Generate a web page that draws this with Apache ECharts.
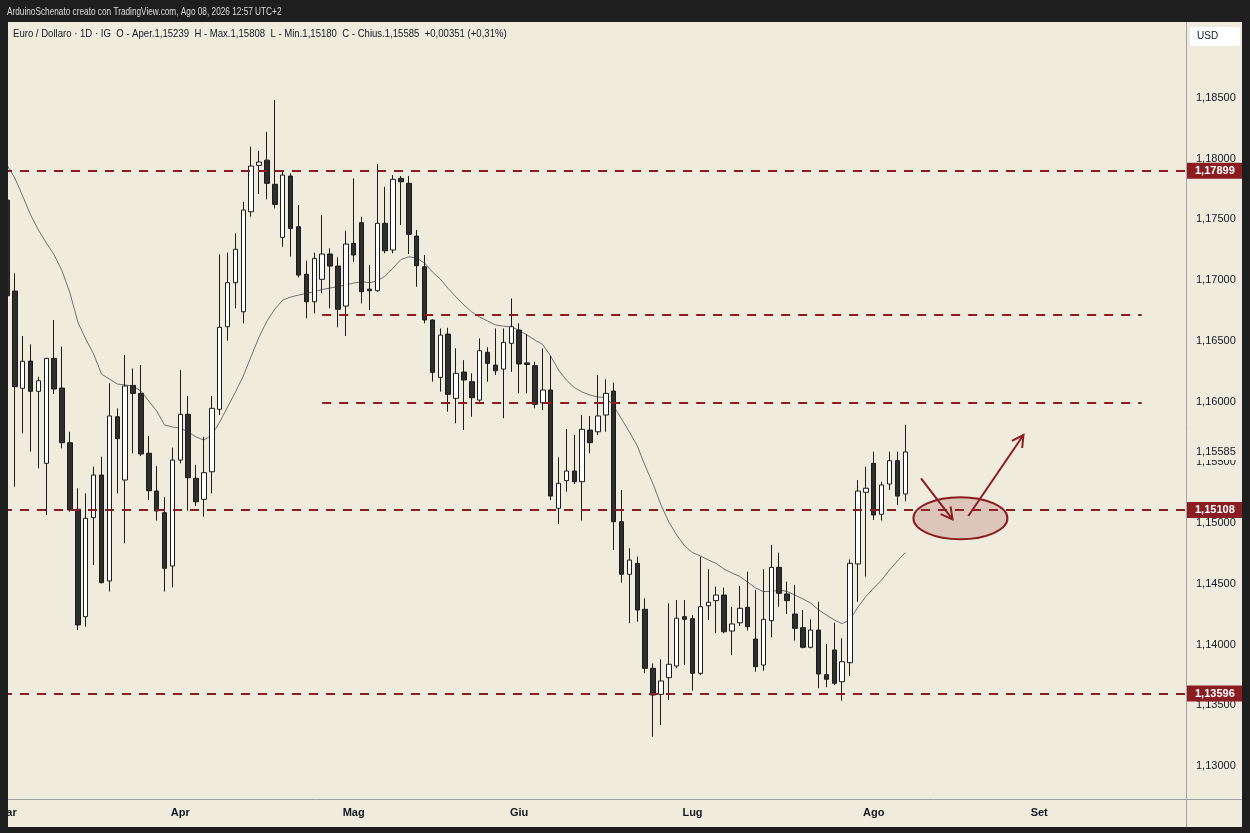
<!DOCTYPE html>
<html><head><meta charset="utf-8">
<script src="https://cdn.jsdelivr.net/npm/echarts@6/dist/echarts.min.js"></script>
<style>html,body{margin:0;padding:0;background:#1e1e1e;}#c{width:1250px;height:833px;}</style>
</head><body><div id="c"></div>
<script>
// ---- data ----
const monthNames = ['Gen','Feb','Mar','Apr','Mag','Giu','Lug','Ago','Set','Ott','Nov','Dic'];
const opens = [
1.17658,1.16909,1.16109,1.16333,1.16084,1.15491,1.16355,1.16111,1.15661,1.15113,
1.14229,1.15044,1.15395,1.14523,1.15875,1.15354,1.16133,1.16067,1.15574,1.15263,
1.15085,1.14646,1.15518,1.15895,1.15368,1.15195,1.15422,1.15936,1.16616,1.16978,
1.16739,1.17562,1.17944,1.17987,1.17788,1.17351,1.17856,1.17439,1.17047,1.16821,
1.17006,1.17214,1.17115,1.16786,1.17302,1.17472,1.16925,1.16912,1.17467,1.17247,
1.17837,1.17796,1.17362,1.17109,1.16671,1.16199,1.16555,1.16026,1.16243,1.16163,
1.16012,1.16405,1.16300,1.16267,1.16479,1.16588,1.16318,1.16295,1.15990,1.16095,
1.15121,1.15348,1.15428,1.15340,1.15765,1.15751,1.15889,1.16086,1.15011,1.14578,
1.14668,1.14290,1.13804,1.13590,1.13727,1.13823,1.14229,1.14212,1.13763,1.14319,
1.14361,1.14407,1.14111,1.14179,1.14306,1.14045,1.13831,1.14196,1.14635,1.14416,
1.14251,1.14138,1.13977,1.14119,1.13752,1.13955,1.13694,1.13850,1.14663,1.15253,
1.15491,1.15072,1.15321,1.15513,1.15239];
const closes = [
1.16871,1.16122,1.16331,1.16084,1.16171,1.16355,1.16103,1.15661,1.15107,1.14161,
1.15039,1.15395,1.14509,1.15881,1.15694,1.16128,1.16067,1.15568,1.15266,1.15099,
1.14627,1.15518,1.15895,1.15373,1.15175,1.15414,1.15944,1.16611,1.16978,1.17253,
1.17576,1.17938,1.17971,1.17796,1.17623,1.17864,1.17425,1.17041,1.16821,1.17178,
1.17214,1.17115,1.16759,1.17296,1.17206,1.16904,1.16912,1.17467,1.17241,1.17829,
1.17809,1.17376,1.17118,1.16671,1.16240,1.16547,1.16059,1.16232,1.16177,1.16031,
1.16418,1.16314,1.16253,1.16487,1.16616,1.16309,1.16305,1.15977,1.16095,1.15222,
1.15327,1.15428,1.15340,1.15771,1.15661,1.15881,1.16067,1.15011,1.14578,1.14695,
1.14284,1.13804,1.13584,1.13700,1.13837,1.14216,1.14207,1.13763,1.14311,1.14347,
1.14407,1.14105,1.14169,1.14298,1.14147,1.13817,1.14207,1.14635,1.14421,1.14361,
1.14133,1.13977,1.14119,1.13757,1.13714,1.13681,1.13858,1.14668,1.15263,1.15286,
1.15066,1.15313,1.15513,1.15222,1.15585];
const lows = [
1.16800,1.15299,1.15738,1.15587,1.15450,1.15066,1.16062,1.15615,1.15093,1.14119,
1.14147,1.14654,1.14504,1.14435,1.15244,1.14833,1.15574,1.15551,1.15189,1.15019,
1.14435,1.14471,1.15491,1.15101,1.15140,1.15052,1.15244,1.15889,1.16500,1.16767,
1.16644,1.17521,1.17708,1.17664,1.17590,1.17274,1.17192,1.17022,1.16685,1.16726,
1.16890,1.16767,1.16611,1.16539,1.17150,1.16808,1.16753,1.16904,1.17220,1.17220,
1.17453,1.17214,1.16945,1.16644,1.16163,1.16081,1.15916,1.15821,1.15765,1.15875,
1.15998,1.16163,1.16218,1.15862,1.16245,1.16067,1.16067,1.15944,1.15930,1.15189,
1.14992,1.15258,1.15321,1.15019,1.15574,1.15724,1.15751,1.14778,1.14509,1.14175,
1.14188,1.13763,1.13241,1.13337,1.13543,1.13804,1.13831,1.13620,1.13749,1.14202,
1.14092,1.14092,1.13914,1.14152,1.14114,1.13776,1.13784,1.14059,1.14311,1.14251,
1.14031,1.13969,1.13969,1.13640,1.13648,1.13667,1.13538,1.13741,1.14352,1.14558,
1.15025,1.15019,1.15272,1.15148,1.15180];
const highs = [
1.17750,1.17055,1.16539,1.16471,1.16204,1.16360,1.16671,1.16451,1.15751,1.15286,
1.15244,1.15463,1.15546,1.16150,1.15944,1.16383,1.16273,1.16300,1.15716,1.15469,
1.15212,1.15620,1.16259,1.16045,1.15477,1.15710,1.16045,1.17211,1.17225,1.17384,
1.17644,1.18097,1.18064,1.18220,1.18481,1.17891,1.17878,1.17617,1.17159,1.17225,
1.17535,1.17261,1.17187,1.17406,1.17837,1.17521,1.17123,1.17955,1.17768,1.17864,
1.17856,1.17856,1.17411,1.17206,1.16677,1.16602,1.16607,1.16438,1.16341,1.16232,
1.16520,1.16446,1.16602,1.16602,1.16849,1.16644,1.16555,1.16328,1.16438,1.16374,
1.15541,1.15774,1.15724,1.15889,1.15881,1.16218,1.16183,1.16155,1.15272,1.14792,
1.14723,1.14380,1.13845,1.13878,1.14339,1.14366,1.14366,1.14243,1.14723,1.14619,
1.14476,1.14468,1.14311,1.14482,1.14599,1.14449,1.14619,1.14819,1.14756,1.14517,
1.14490,1.14284,1.14207,1.14352,1.14004,1.14179,1.14051,1.14701,1.15354,1.15463,
1.15587,1.15340,1.15587,1.15587,1.15808];
const maValues = [
1.17947,1.17840,1.17691,1.17535,1.17412,1.17305,1.17206,1.17074,1.16893,1.16654,
1.16514,1.16391,1.16226,1.16185,1.16144,1.16136,1.16128,1.16086,1.16004,1.15922,
1.15807,1.15790,1.15782,1.15749,1.15708,1.15683,1.15724,1.15831,1.15955,1.16078,
1.16210,1.16374,1.16531,1.16663,1.16761,1.16835,1.16860,1.16876,1.16889,1.16905,
1.16922,1.16934,1.16946,1.16959,1.16975,1.16986,1.16979,1.16992,1.17033,1.17099,
1.17169,1.17191,1.17181,1.17140,1.17066,1.17008,1.16930,1.16860,1.16794,1.16737,
1.16695,1.16663,1.16630,1.16621,1.16613,1.16588,1.16547,1.16506,1.16469,1.16374,
1.16259,1.16177,1.16115,1.16078,1.16053,1.16037,1.16033,1.15963,1.15856,1.15749,
1.15634,1.15469,1.15321,1.15148,1.15008,1.14901,1.14811,1.14757,1.14728,1.14696,
1.14667,1.14621,1.14589,1.14560,1.14514,1.14465,1.14436,1.14436,1.14449,1.14436,
1.14407,1.14375,1.14342,1.14284,1.14243,1.14202,1.14171,1.14206,1.14309,1.14395,
1.14465,1.14531,1.14613,1.14687,1.14756];
const yTicks = [1.130,1.135,1.140,1.145,1.150,1.155,1.160,1.165,1.170,1.175,1.180,1.185];
const fullLevels = [1.17899, 1.15108, 1.13596];
const partialLevels = [1.16712, 1.15988];
const partialFrom = '2026-04-27', partialTo = '2026-09-18';
const lastPrice = 1.15585;
const zoneCenter = ['2026-08-18', 1.15039];
const arrowDown = [['2026-08-11', 1.15368], ['2026-08-17', 1.15030]];
const arrowUp = [['2026-08-19', 1.15058], ['2026-08-28', 1.15724]];

// ---- categories (weekdays) ----
const categories = [];
for (let d = Date.UTC(2026,2,2); categories.length < 150; d += 86400000) {
  const dt = new Date(d), wd = dt.getUTCDay();
  if (wd === 0 || wd === 6) continue;
  categories.push(dt.toISOString().slice(0,10));
}
const candleData = opens.map((o,i) => [o, closes[i], lows[i], highs[i]]);
const fmt = v => v.toFixed(5).replace('.', ',');
const FONT = '"Liberation Sans",Arial,sans-serif';
const RED = '#8a1c22';

const chart = echarts.init(document.getElementById('c'), null, {renderer:'canvas'});
const dashStyle = {color: RED, width: 2, type: [9, 8]};
const markData = fullLevels.map(v => ({
  yAxis: v,
  label: {show: true, position: 'end', distance: 2, formatter: () => fmt(v),
    backgroundColor: RED, color: '#ffffff', fontWeight: 'bold', fontSize: 11,
    fontFamily: FONT, padding: [3, 14, 2, 8]}
})).concat(partialLevels.map(v => [
  {coord: [partialFrom, v], label: {show: false}},
  {coord: [partialTo, v]}
]));

chart.setOption({
  animation: false,
  backgroundColor: '#f0ecdd',
  grid: {left: 3, right: 65, top: 22, bottom: 33, containLabel: false, outerBoundsMode: 'none'},
  xAxis: {
    type: 'category', data: categories, boundaryGap: true,
    axisLine: {show: false}, axisTick: {show: false}, splitLine: {show: false},
    axisLabel: {
      interval: (idx, val) => idx === 0 || categories[idx-1].slice(5,7) !== val.slice(5,7),
      formatter: val => monthNames[+val.slice(5,7) - 1],
      color: '#131722', fontSize: 11, fontWeight: 'bold', fontFamily: FONT, margin: 7, hideOverlap: false
    }
  },
  yAxis: {
    type: 'value', position: 'right', min: 1.1272, max: 1.19124, scale: true,
    axisLine: {show: false}, axisTick: {show: false}, splitLine: {show: false},
    axisLabel: {customValues: yTicks, formatter: v => fmt(v), color: '#131722',
      fontSize: 11, fontFamily: FONT, margin: 11}
  },
  series: [
    {type: 'line', data: maValues, symbol: 'none', showSymbol: false, z: 1,
      lineStyle: {color: '#707070', width: 1}, silent: true},
    {type: 'candlestick', data: candleData, barWidth: 5, z: 2,
      itemStyle: {color: '#ffffff', color0: '#2e2e2e', borderColor: '#1c1c1c',
        borderColor0: '#1c1c1c', borderWidth: 1},
      markLine: {silent: true, symbol: ['none','none'], animation: false, precision: 5,
        lineStyle: dashStyle, label: {show: false}, data: markData}
    }
  ]
});

// ---- overlays positioned through the chart's scales ----
const P = (c, v) => chart.convertToPixel({xAxisIndex: 0, yAxisIndex: 0}, [c, v]);
function arrow(a, b) {
  const p1 = P(a[0], a[1]), p2 = P(b[0], b[1]);
  const ang = Math.atan2(p2[1]-p1[1], p2[0]-p1[0]), L = 13, s = 0.5;
  const h1 = [p2[0] - L*Math.cos(ang - s), p2[1] - L*Math.sin(ang - s)];
  const h2 = [p2[0] - L*Math.cos(ang + s), p2[1] - L*Math.sin(ang + s)];
  const st = {stroke: RED, lineWidth: 2, fill: null};
  return [
    {type: 'polyline', z: 60, shape: {points: [p1, p2]}, style: st},
    {type: 'polyline', z: 60, shape: {points: [h1, p2, h2]}, style: st}
  ];
}
const zc = P(zoneCenter[0], zoneCenter[1]);
const lp = P(categories[0], lastPrice);
const graphics = [
  {type: 'ellipse', z: 55, shape: {cx: zc[0], cy: zc[1], rx: 47, ry: 21},
    style: {fill: 'rgba(160,60,60,0.22)', stroke: RED, lineWidth: 2}},
  ...arrow(arrowDown[0], arrowDown[1]),
  ...arrow(arrowUp[0], arrowUp[1]),
  // last price label
  {type: 'rect', z: 70, shape: {x: 1190, y: lp[1] - 8, width: 48, height: 16}, style: {fill: '#f0ecdd'}},
  {type: 'text', z: 71, style: {x: 1196, y: lp[1], text: fmt(lastPrice), fill: '#131722',
    font: '11px ' + FONT, textVerticalAlign: 'middle'}},
  // frame lines
  {type: 'line', z: 80, shape: {x1: 1186.5, y1: 22, x2: 1186.5, y2: 827}, style: {stroke: '#a3a3a3', lineWidth: 1}},
  {type: 'line', z: 80, shape: {x1: 8, y1: 799.5, x2: 1242, y2: 799.5}, style: {stroke: '#a3a3a3', lineWidth: 1}},
  // USD box
  {type: 'rect', z: 80, shape: {x: 1190, y: 27, width: 50, height: 19, r: 2}, style: {fill: '#ffffff'}},
  {type: 'text', z: 81, style: {x: 1197, y: 36.5, text: 'USD', fill: '#131722', font: '10px ' + FONT, textVerticalAlign: 'middle'}},
  // dark frame
  {type: 'rect', z: 90, shape: {x: 0, y: 0, width: 1250, height: 22}, style: {fill: '#1e1e1e'}},
  {type: 'rect', z: 90, shape: {x: 0, y: 0, width: 8, height: 833}, style: {fill: '#1e1e1e'}},
  {type: 'rect', z: 90, shape: {x: 1242, y: 0, width: 8, height: 833}, style: {fill: '#1e1e1e'}},
  {type: 'rect', z: 90, shape: {x: 0, y: 827, width: 1250, height: 6}, style: {fill: '#1e1e1e'}},
  {type: 'text', z: 91, x: 7, y: 11.5, scaleX: 0.75, style: {x: 0, y: 0,
    text: 'ArduinoSchenato creato con TradingView.com, Ago 08, 2026 12:57 UTC+2',
    fill: '#dcdcdc', font: '11px ' + FONT, textVerticalAlign: 'middle'}},
  {type: 'text', z: 91, x: 13, y: 33.5, scaleX: 0.87, style: {x: 0, y: 0,
    text: 'Euro / Dollaro · 1D · IG  O - Aper.1,15239  H - Max.1,15808  L - Min.1,15180  C - Chius.1,15585  +0,00351 (+0,31%)',
    fill: '#131722', font: '11px ' + FONT, textVerticalAlign: 'middle'}}
];
chart.setOption({graphic: graphics});
</script></body></html>
